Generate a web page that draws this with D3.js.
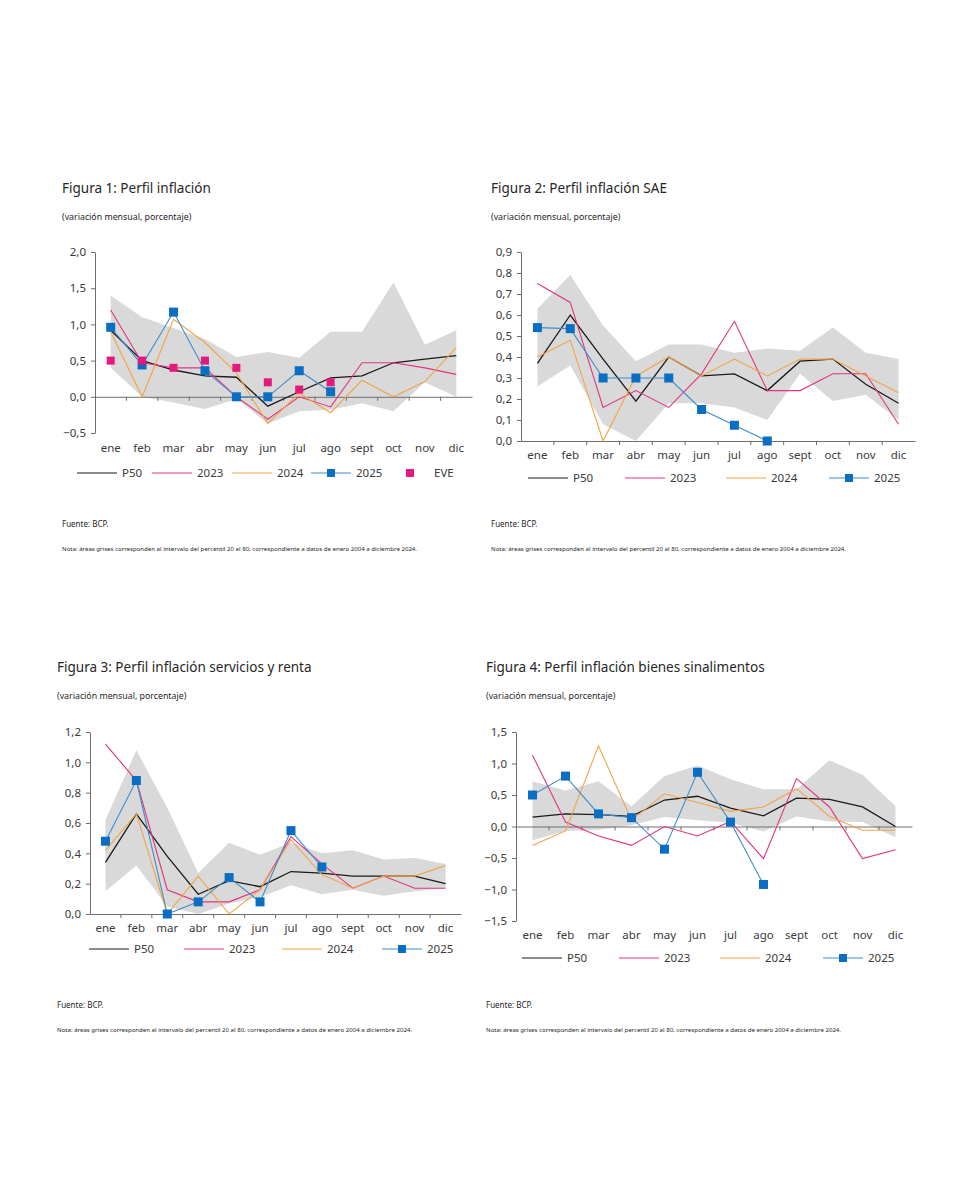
<!DOCTYPE html>
<html>
<head>
<meta charset="utf-8">
<script src="https://cdn.jsdelivr.net/npm/d3@7"></script>
<style>
  body { margin: 0; background: #fff; }
  svg text { font-family: "Noto Sans", "Open Sans", sans-serif; fill: #262626; }
</style>
</head>
<body>
<script>
// ! Data: months and series for each figure
const months = ["ene","feb","mar","abr","may","jun","jul","ago","sept","oct","nov","dic"];

// Figura 1
const f1Upper = [1.40, 1.10, 0.95, 0.80, 0.55, 0.62, 0.54, 0.90, 0.90, 1.58, 0.72, 0.92];
const f1Lower = [0.40, 0.00, -0.08, -0.17, -0.03, -0.37, -0.20, -0.18, -0.09, -0.20, 0.20, 0.00];
const f1P50 = [0.92, 0.50, 0.37, 0.29, 0.27, -0.13, 0.07, 0.26, 0.29, 0.47, 0.52, 0.57];
const f1Y2023 = [1.20, 0.47, 0.40, 0.40, 0.00, -0.31, 0.00, -0.14, 0.47, 0.47, 0.40, 0.31];
const f1Y2024 = [0.90, 0.00, 1.07, 0.75, 0.33, -0.37, 0.05, -0.22, 0.23, 0.00, 0.21, 0.68];
const f1Y2025 = [0.96, 0.44, 1.17, 0.36, 0.00, 0.00, 0.36, 0.07];
const f1Eve = [0.50, 0.50, 0.40, 0.50, 0.40, 0.20, 0.10, 0.20];

// Figura 2
const f2Upper = [0.63, 0.79, 0.55, 0.38, 0.46, 0.46, 0.42, 0.44, 0.43, 0.54, 0.42, 0.39];
const f2Lower = [0.26, 0.36, 0.08, 0.00, 0.18, 0.18, 0.16, 0.10, 0.32, 0.19, 0.22, 0.10];
const f2P50 = [0.37, 0.60, 0.39, 0.19, 0.40, 0.31, 0.32, 0.24, 0.38, 0.39, 0.27, 0.18];
const f2Y2023 = [0.75, 0.66, 0.16, 0.24, 0.16, 0.32, 0.57, 0.24, 0.24, 0.32, 0.32, 0.08];
const f2Y2024 = [0.40, 0.48, 0.00, 0.31, 0.40, 0.31, 0.39, 0.31, 0.39, 0.39, 0.31, 0.23];
const f2Y2025 = [0.54, 0.535, 0.30, 0.30, 0.30, 0.15, 0.075, 0.00];

// Figura 3
const f3Upper = [0.62, 1.08, 0.70, 0.27, 0.47, 0.39, 0.47, 0.40, 0.42, 0.36, 0.37, 0.33];
const f3Lower = [0.15, 0.32, 0.05, 0.00, 0.07, 0.11, 0.19, 0.13, 0.16, 0.12, 0.15, 0.17];
const f3P50 = [0.34, 0.66, 0.38, 0.13, 0.22, 0.18, 0.28, 0.27, 0.25, 0.25, 0.25, 0.20];
const f3Y2023 = [1.12, 0.88, 0.16, 0.08, 0.08, 0.16, 0.51, 0.33, 0.17, 0.25, 0.17, 0.17];
const f3Y2024 = [0.42, 0.66, 0.00, 0.25, 0.00, 0.16, 0.49, 0.26, 0.17, 0.25, 0.25, 0.32];
const f3Y2025 = [0.48, 0.88, 0.00, 0.08, 0.24, 0.08, 0.55, 0.31];

// Figura 4
const f4Upper = [0.72, 0.57, 0.72, 0.32, 0.80, 0.97, 0.75, 0.59, 0.59, 1.05, 0.82, 0.32];
const f4Lower = [-0.22, -0.07, -0.05, 0.02, 0.15, 0.10, 0.06, -0.08, 0.16, 0.08, 0.07, -0.17];
const f4P50 = [0.15, 0.20, 0.19, 0.16, 0.42, 0.48, 0.29, 0.17, 0.45, 0.43, 0.31, 0.00];
const f4Y2023 = [1.13, 0.07, -0.15, -0.30, 0.00, -0.15, 0.08, -0.51, 0.76, 0.31, -0.51, -0.37];
const f4Y2024 = [-0.30, -0.07, 1.28, 0.10, 0.52, 0.38, 0.24, 0.31, 0.60, 0.16, -0.06, -0.06];
const f4Y2025 = [0.50, 0.80, 0.20, 0.14, -0.36, 0.86, 0.07, -0.92];

const notaText = "Nota: áreas grises corresponden al intervalo del percentil 20 al 80, correspondiente a datos de enero 2004 a diciembre 2024.";

// ! Colors
const cBand = "#d9d9d9", cP50 = "#1a1a1a", c2023 = "#e3347f", c2024 = "#f2a445",
  c2025Line = "#3f8cc9", c2025Mark = "#0a6ec2", cEve = "#e5187c", cAxis = "#6e6e6e";

const width = 960, height = 1200;
const svg = d3.select("body").append("svg").attr("width", width).attr("height", height);

const loc = d3.formatLocale({ decimal: ",", thousands: ".", grouping: [3], currency: ["", ""] });

// ! Drawing one figure
const drawFigure = (cfg) => {
  const x = d3.scaleBand().domain(months).range([cfg.x0, cfg.x1]);
  const y = d3.scaleLinear().domain(cfg.domain).range([cfg.yBottom, cfg.yTop]);
  const cx = (i) => x(months[i]) + x.bandwidth() / 2;
  const fmt = loc.format(cfg.fmt);

  // titles
  svg.append("text").attr("x", cfg.tx).attr("y", cfg.ty)
    .style("font-size", "13.5px").text(cfg.title);
  svg.append("text").attr("x", cfg.tx).attr("y", cfg.ty + 27)
    .style("font-size", "8.8px").text("(variación mensual, porcentaje)");

  // band P20-P80
  const band = d3.area().x((d, i) => cx(i)).y0((d, i) => y(cfg.lower[i])).y1((d) => y(d));
  svg.append("path").datum(cfg.upper).attr("d", band).attr("fill", cBand);

  // y axis
  const yAxis = svg.append("g").attr("transform", `translate(${cfg.x0},0)`)
    .call(d3.axisLeft(y).tickValues(d3.range(cfg.domain[0], cfg.domain[1] + 1e-9, cfg.step))
      .tickFormat(fmt).tickSize(4).tickPadding(5).tickSizeOuter(0));
  yAxis.select(".domain").attr("stroke", cAxis);
  yAxis.selectAll(".tick line").attr("stroke", cAxis);
  yAxis.selectAll("text").style("font-size", "11.5px").style("fill", "#3a3a3a");

  // x axis at zero
  const xAxis = svg.append("g").attr("transform", `translate(0,${y(0)})`)
    .call(d3.axisBottom(x).tickSize(0).tickFormat(""));
  xAxis.select(".domain").attr("stroke", cAxis);
  xAxis.selectAll(".tick").remove();
  xAxis.selectAll(".sep").data(months.slice(1)).enter().append("line")
    .attr("x1", (d) => x(d)).attr("x2", (d) => x(d))
    .attr("y1", 0).attr("y2", 4).attr("stroke", cAxis);

  // month labels
  svg.append("g").selectAll("text").data(months).enter().append("text")
    .attr("x", (d) => x(d) + x.bandwidth() / 2).attr("y", cfg.labelY)
    .attr("text-anchor", "middle").style("font-size", "11.5px").style("fill", "#3a3a3a")
    .text((d) => d);

  const line = d3.line().x((d, i) => cx(i)).y((d) => y(d));
  const series = [
    { v: cfg.p50, c: cP50, w: 1.3 },
    { v: cfg.y2023, c: c2023, w: 1.1 },
    { v: cfg.y2024, c: c2024, w: 1.1 },
    { v: cfg.y2025, c: c2025Line, w: 1.1 },
  ];
  series.forEach((s) => {
    svg.append("path").datum(s.v).attr("d", line)
      .attr("fill", "none").attr("stroke", s.c).attr("stroke-width", s.w);
  });

  const ms = 9;
  svg.append("g").selectAll("rect").data(cfg.y2025).enter().append("rect")
    .attr("x", (d, i) => cx(i) - ms / 2).attr("y", (d) => y(d) - ms / 2)
    .attr("width", ms).attr("height", ms).attr("fill", c2025Mark);

  if (cfg.eve) {
    const es = 8;
    svg.append("g").selectAll("rect").data(cfg.eve).enter().append("rect")
      .attr("x", (d, i) => cx(i) - es / 2).attr("y", (d) => y(d) - es / 2)
      .attr("width", es).attr("height", es).attr("fill", cEve);
  }

  // legend
  const leg = svg.append("g").attr("transform", `translate(0,${cfg.legY})`);
  const items = [
    { t: "P50", c: cP50 }, { t: "2023", c: c2023 }, { t: "2024", c: c2024 },
    { t: "2025", c: c2025Line, m: c2025Mark },
  ];
  items.forEach((it, k) => {
    const lx = cfg.legX[k];
    leg.append("line").attr("x1", lx).attr("x2", lx + 40).attr("y1", 0).attr("y2", 0)
      .attr("stroke", it.c).attr("stroke-width", 1.2);
    if (it.m) {
      leg.append("rect").attr("x", lx + 16).attr("y", -4).attr("width", 8).attr("height", 8)
        .attr("fill", it.m);
    }
    leg.append("text").attr("x", lx + 45).attr("y", 4).style("font-size", "11.5px")
      .style("fill", "#3a3a3a").text(it.t);
  });
  if (cfg.eve) {
    const ex = cfg.legX[4];
    leg.append("rect").attr("x", ex - 4).attr("y", -4).attr("width", 8).attr("height", 8)
      .attr("fill", cEve);
    leg.append("text").attr("x", ex + 24).attr("y", 4).style("font-size", "11.5px")
      .style("fill", "#3a3a3a").text("EVE");
  }

  // source and note
  svg.append("text").attr("x", cfg.tx).attr("y", cfg.srcY)
    .style("font-size", "8px").text("Fuente: BCP.");
  svg.append("text").attr("x", cfg.tx).attr("y", cfg.srcY + 24)
    .style("font-size", "5.4px").attr("textLength", 355).attr("lengthAdjust", "spacingAndGlyphs")
    .text(cfg.nota);
};

drawFigure({
  title: "Figura 1: Perfil inflación", tx: 62, ty: 193,
  x0: 95, x1: 472, yTop: 252, yBottom: 433, domain: [-0.5, 2.0], step: 0.5, fmt: ".1f",
  labelY: 452, legY: 473, legX: [77, 152, 232, 311, 410], srcY: 527,
  upper: f1Upper, lower: f1Lower, p50: f1P50, y2023: f1Y2023, y2024: f1Y2024, y2025: f1Y2025,
  eve: f1Eve, nota: notaText,
});

drawFigure({
  title: "Figura 2: Perfil inflación SAE", tx: 491, ty: 193,
  x0: 521, x1: 915, yTop: 252, yBottom: 441, domain: [0, 0.9], step: 0.1, fmt: ".1f",
  labelY: 459, legY: 478, legX: [528, 625, 726, 829], srcY: 527,
  upper: f2Upper, lower: f2Lower, p50: f2P50, y2023: f2Y2023, y2024: f2Y2024, y2025: f2Y2025,
  nota: "Nota: áreas grises     corresponden al intervalo del percentil 20 al 80, correspondiente a datos de enero 2004 a diciembre 2024.",
});

drawFigure({
  title: "Figura 3: Perfil inflación servicios y renta", tx: 57, ty: 672,
  x0: 90, x1: 461, yTop: 732, yBottom: 914, domain: [0, 1.2], step: 0.2, fmt: ".1f",
  labelY: 932, legY: 949, legX: [89, 184, 282, 382], srcY: 1008,
  upper: f3Upper, lower: f3Lower, p50: f3P50, y2023: f3Y2023, y2024: f3Y2024, y2025: f3Y2025,
  nota: "Nota: áreas grises corresponden al intervalo del percentil 20  al 80, correspondiente a datos de enero 2004 a diciembre 2024.",
});

drawFigure({
  title: "Figura 4: Perfil inflación bienes sinalimentos", tx: 486, ty: 672,
  x0: 516, x1: 912, yTop: 732, yBottom: 921, domain: [-1.5, 1.5], step: 0.5, fmt: ".1f",
  labelY: 939, legY: 958, legX: [522, 619, 720, 823], srcY: 1008,
  upper: f4Upper, lower: f4Lower, p50: f4P50, y2023: f4Y2023, y2024: f4Y2024, y2025: f4Y2025,
  nota: notaText,
});
</script>
</body>
</html>
